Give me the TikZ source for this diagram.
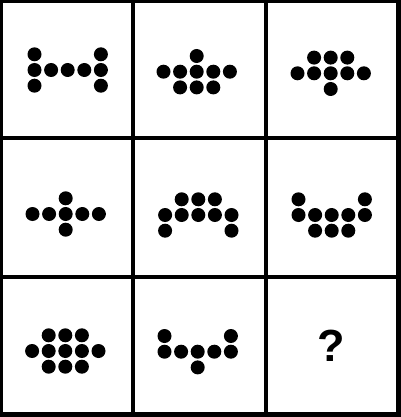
\documentclass[tikz,border=0pt]{standalone}
\usepackage{fontspec}
\setmainfont{Liberation Sans}
\usetikzlibrary{calc}
\begin{document}
\begin{tikzpicture}[x=1pt,y=-1pt,grid line/.style={line width=4.4pt,black},dot/.style={fill=black},mark text/.style={font=\bfseries\fontsize{45}{45}\selectfont}]
\useasboundingbox (0,0) rectangle (400,417);
% frame and grid
\draw[grid line] (1,1) rectangle (398.5,414.5);
\draw[grid line] (133,0) -- (133,417) (266,0) -- (266,417);
\draw[grid line] (0,138) -- (400,138) (0,277) -- (400,277);
% dot patterns, offsets in steps of the dot spacing
\newcommand{\dotset}[2]{%
  \foreach \i/\j in {#2} {\fill[dot] ($(#1)+(16.6*\i,15.7*\j)$) circle (7);}}
\coordinate (c11) at (67.7,70);
\coordinate (c12) at (196.7,71.7);
\coordinate (c13) at (330.7,73.3);
\coordinate (c21) at (65.7,214);
\coordinate (c22) at (198.3,215);
\coordinate (c23) at (331.7,215);
\coordinate (c31) at (65.3,351);
\coordinate (c32) at (197.7,351.7);
\dotset{c11}{-2/-1,-2/0,-2/1,-1/0,0/0,1/0,2/-1,2/0,2/1}
\dotset{c12}{0/-1,-2/0,-1/0,0/0,1/0,2/0,-1/1,0/1,1/1}
\dotset{c13}{-1/-1,0/-1,1/-1,-2/0,-1/0,0/0,1/0,2/0,0/1}
\dotset{c21}{0/-1,-2/0,-1/0,0/0,1/0,2/0,0/1}
\dotset{c22}{-1/-1,0/-1,1/-1,-2/0,-1/0,0/0,1/0,2/0,-2/1,2/1}
\dotset{c23}{-2/-1,2/-1,-2/0,-1/0,0/0,1/0,2/0,-1/1,0/1,1/1}
\dotset{c31}{-1/-1,0/-1,1/-1,-2/0,-1/0,0/0,1/0,2/0,-1/1,0/1,1/1}
\dotset{c32}{-2/-1,2/-1,-2/0,-1/0,0/0,1/0,2/0,0/1}
% missing cell
\node[mark text] (q) at (331.5,346) {?};
\end{tikzpicture}
\end{document}
